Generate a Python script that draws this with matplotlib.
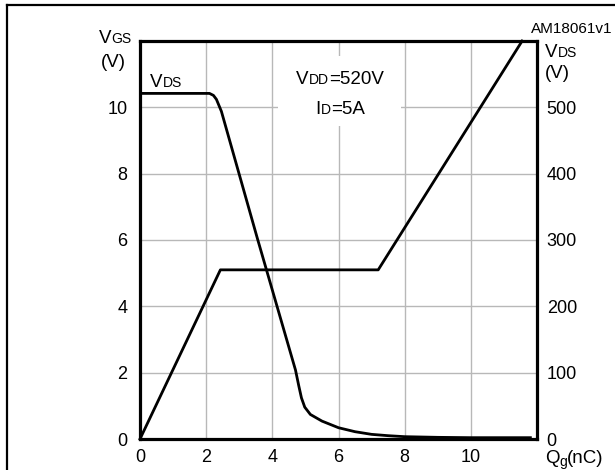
import matplotlib
matplotlib.use("Agg")
import matplotlib.pyplot as plt
from matplotlib.patches import Rectangle
from matplotlib.lines import Line2D

W, H = 615, 470
FONT = ['Liberation Sans', 'DejaVu Sans']
plt.rcParams['font.family'] = FONT

# gate charge curve, V_GS (V) vs Qg (nC)
qg_vgs = [0.0, 2.43, 7.2, 11.55]
vgs = [0.0, 5.1, 5.1, 12.0]

# drain-source voltage (V) vs Qg (nC)
qg_vds = [0.0, 2.1, 2.22, 2.31, 2.46, 3.55, 4.7, 4.8, 4.88, 4.98, 5.15,
          5.5, 6.0, 6.5, 7.0, 7.5, 8.0, 9.0, 10.0, 11.8]
vds = [521, 521, 518, 512, 494, 302, 104, 80, 62, 48, 37,
       27, 17, 11, 7, 5, 3.5, 2.5, 2.0, 2.0]

x_ticks = [0, 2, 4, 6, 8, 10, 12]
x_labels = ['0', '2', '4', '6', '8', '10', '']
vgs_ticks = [0, 2, 4, 6, 8, 10, 12]
vgs_labels = ['0', '2', '4', '6', '8', '10', '']
vds_ticks = [0, 100, 200, 300, 400, 500, 600]
vds_labels = ['0', '100', '200', '300', '400', '500', '']

fig = plt.figure(figsize=(W / 100, H / 100), dpi=100)
ax = fig.add_axes([140 / W, 1 - 439 / H, 397 / W, 398 / H])
ax2 = ax.twinx()

ax.set_xlim(0, 12)
ax.set_ylim(0, 12)
ax2.set_ylim(0, 600)

ax.set_xticks(x_ticks)
ax.set_xticklabels(x_labels)
ax.set_yticks(vgs_ticks)
ax.set_yticklabels(vgs_labels)
ax2.set_yticks(vds_ticks)
ax2.set_yticklabels(vds_labels)

ax.tick_params(axis='x', length=0, pad=7, labelsize=13)
ax.tick_params(axis='y', length=0, pad=9, labelsize=13)
ax2.tick_params(axis='y', length=0, pad=7, labelsize=13)

ax.set_axisbelow(True)
ax.grid(True, color='#b8b8b8', lw=1.0)
for s in ax.spines.values():
    s.set_linewidth(2.3)
for s in ax2.spines.values():
    s.set_visible(False)

# white box behind the test conditions (breaks the grid)
ax.add_patch(Rectangle((4.17, 9.44), 3.73, 2.11, facecolor='white',
                       edgecolor='none', zorder=1))

ax.plot(qg_vgs, vgs, color='black', lw=2.0, zorder=3, clip_on=False)
ax2.plot(qg_vds, vds, color='black', lw=2.0, zorder=3)

# outer frame (cut by the image edge right and bottom)
fig.add_artist(Line2D([7 / W, 7 / W], [1 - 5 / H, -0.1], color='black', lw=1.6))
fig.add_artist(Line2D([7 / W, 1.1], [1 - 5 / H, 1 - 5 / H], color='black', lw=1.6))

fig.canvas.draw()
renderer = fig.canvas.get_renderer()


def rich_text(x, y, parts, ha='left'):
    # parts: (text, size, dy) placed one after another, baseline at pixel y
    arts = []
    xs = 0
    for s, size, dy in parts:
        t = fig.text(0, 1 - (y + dy) / H, s, fontsize=size, va='baseline',
                     ha='left', family=FONT)
        w = t.get_window_extent(renderer).width
        arts.append((t, xs))
        xs += w
    x0 = x - xs / 2 if ha == 'center' else x
    for t, off in arts:
        t.set_x((x0 + off) / W)


big, small = 13.5, 10
rich_text(99, 43, [('V', big, 0), ('GS', small, 0)])
rich_text(101, 67, [('(V)', big, 0)])
rich_text(545, 57, [('V', big, 0), ('DS', small, 0)])
rich_text(545, 78, [('(V)', big, 0)])
rich_text(150, 87, [('V', big, 0), ('DS', small, 0)])
rich_text(340, 84, [('V', big, 0), ('DD', small, 0), ('=520V', big, 0)], ha='center')
rich_text(340, 114, [('I', big, 0), ('D', small, 0), ('=5A', big, 0)], ha='center')
rich_text(545, 463, [('Q', big, 0), ('g', small, 3), ('(nC)', big, 0)])
fig.text(612 / W, 1 - 33 / H, 'AM18061v1', fontsize=11, ha='right',
         va='baseline', family=FONT)

fig.savefig('out.png', dpi=100)
